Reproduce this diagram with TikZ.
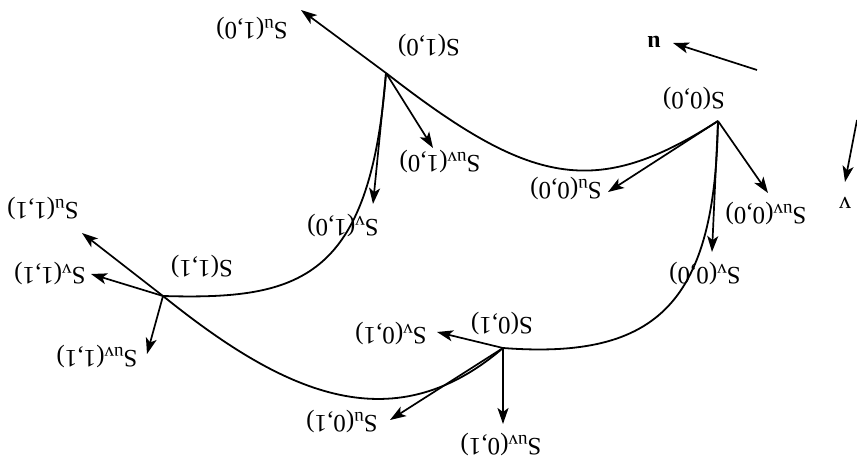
\documentclass[tikz,border=0pt]{standalone}
\usepackage{fontspec}
\setmainfont{Liberation Serif}
\usetikzlibrary{arrows.meta}
\newcommand{\sbx}[1]{\raisebox{-0.13em}{\fontsize{19}{20}\selectfont #1}}
\begin{document}
\begin{tikzpicture}[x=1pt,y=-1pt,
  curve/.style={line width=1.8pt},
  vec/.style={line width=1.7pt,-{Stealth[length=16pt,width=11pt,inset=4pt]}},
  lbl/.style={rotate=180,inner sep=0pt,font=\fontsize{25}{27}\selectfont}]
\useasboundingbox (0,0) rectangle (857,460);
% corner points
\coordinate (P00) at (718,121);
\coordinate (P10) at (386,73);
\coordinate (P11) at (163,296);
\coordinate (P01) at (503,348);
% arrow tips
\coordinate (tu00) at (608,192);
\coordinate (tv00) at (712,252);
\coordinate (tuv00) at (768,193);
\coordinate (tu10) at (301,10);
\coordinate (tv10) at (373,204);
\coordinate (tuv10) at (433,148);
\coordinate (tu11) at (82,233);
\coordinate (tv11) at (91,274);
\coordinate (tuv11) at (147,354);
\coordinate (tu01) at (390,420);
\coordinate (tv01) at (437,332);
\coordinate (tuv01) at (503,424);
% axes
\coordinate (ua) at (757,70);
\coordinate (ub) at (673,43);
\coordinate (va) at (857,120);
\coordinate (vb) at (845,182);
% curves
\draw[curve] (P10) .. controls (530,185) and (595,200) .. (P00);
\draw[curve] (P00) .. controls (715,300) and (660,360) .. (P01);
\draw[curve] (P10) .. controls (370,280) and (300,300) .. (P11);
\draw[curve] (P11) .. controls (280,390) and (390,445) .. (P01);
% vectors
\draw[vec] (P00) -- (tu00);
\draw[vec] (P00) -- (tv00);
\draw[vec] (P00) -- (tuv00);
\draw[vec] (P10) -- (tu10);
\draw[vec] (P10) -- (tv10);
\draw[vec] (P10) -- (tuv10);
\draw[vec] (P11) -- (tu11);
\draw[vec] (P11) -- (tv11);
\draw[vec] (P11) -- (tuv11);
\draw[vec] (P01) -- (tu01);
\draw[vec] (P01) -- (tv01);
\draw[vec] (P01) -- (tuv01);
\draw[vec] (ua) -- (ub);
\draw[vec] (va) -- (vb);
% labels
\node[lbl] (lS00) at (694,99) {S(0,0)};
\node[lbl] (lSu00) at (566,189) {S\sbx{u}(0,0)};
\node[lbl] (lSuv00) at (766,214) {S\sbx{uv}(0,0)};
\node[lbl] (lSv00) at (705,274) {S\sbx{v}(0,0)};
\node[lbl] (lS10) at (429,46) {S(1,0)};
\node[lbl] (lSu10) at (252,29) {S\sbx{u}(1,0)};
\node[lbl] (lSuv10) at (440,162) {S\sbx{uv}(1,0)};
\node[lbl] (lSv10) at (343,226) {S\sbx{v}(1,0)};
\node[lbl] (lS11) at (202,267) {S(1,1)};
\node[lbl] (lSu11) at (43,209) {S\sbx{u}(1,1)};
\node[lbl] (lSv11) at (50,274) {S\sbx{v}(1,1)};
\node[lbl] (lSuv11) at (97,357) {S\sbx{uv}(1,1)};
\node[lbl] (lS01) at (502,324) {S(0,1)};
\node[lbl] (lSv01) at (391,334) {S\sbx{v}(0,1)};
\node[lbl] (lSu01) at (342,422) {S\sbx{u}(0,1)};
\node[lbl] (lSuv01) at (501,445) {S\sbx{uv}(0,1)};
\node[lbl,font=\fontsize{24}{26}\selectfont\bfseries] (lu) at (654,42) {u};
\node[lbl,font=\fontsize{24}{26}\selectfont] (lv) at (845,203) {v};
\end{tikzpicture}
\end{document}
